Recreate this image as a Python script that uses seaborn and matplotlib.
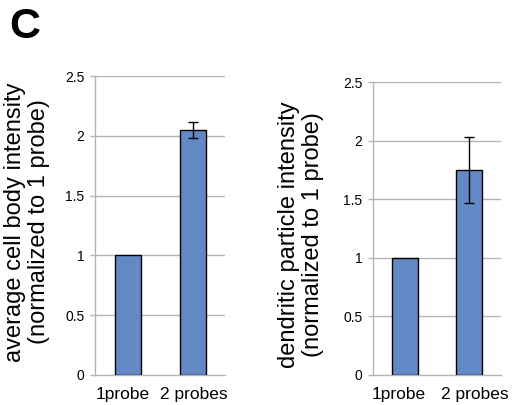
import matplotlib
matplotlib.use("Agg")
import matplotlib.pyplot as plt
import matplotlib.transforms as mtransforms
import seaborn as sns
import pandas as pd

categories = ["1probe", "2 probes"]
cell_body_values = [1.0, 2.05]
cell_body_errors = [0.0, 0.065]
dendritic_values = [1.0, 1.75]
dendritic_errors = [0.0, 0.28]
y_ticks = [0, 0.5, 1, 1.5, 2, 2.5]
y_tick_labels = ["0", "0.5", "1", "1.5", "2", "2.5"]

sns.set_theme(style="white")
plt.rcParams["font.family"] = ["Liberation Sans", "DejaVu Sans"]

W, H = 514, 405
fig = plt.figure(figsize=(W / 100, H / 100), dpi=100)

bar_color = "#6389C4"
grid_color = "#B4B4B4"


def panel(rect, values, errors, ylabel, label_x, label_y, label_shifts):
    ax = fig.add_axes(rect)
    df = pd.DataFrame({"cat": categories, "val": values})
    sns.barplot(data=df, x="cat", y="val", color=bar_color, width=0.4,
                edgecolor="black", linewidth=1.0, saturation=1,
                errorbar=None, ax=ax, zorder=3)
    xs = list(range(len(categories)))
    for x, v, e in zip(xs, values, errors):
        if e > 0:
            ax.errorbar(x, v, yerr=e, color="black", capsize=3.5,
                        elinewidth=1.0, capthick=1.0, zorder=4)
    ax.set_xlim(-0.5, 1.5)
    ax.set_ylim(0, 2.5)
    ax.set_yticks(y_ticks)
    ax.set_yticklabels(y_tick_labels)
    for t in y_ticks[1:]:
        ax.axhline(t, color=grid_color, lw=1.0, zorder=1)
    for s in ["top", "right"]:
        ax.spines[s].set_visible(False)
    ax.spines["left"].set_color(grid_color)
    ax.spines["bottom"].set_color(grid_color)
    ax.spines["left"].set_linewidth(1.0)
    ax.spines["bottom"].set_linewidth(1.0)
    ax.tick_params(axis="y", which="both", left=True, length=3.6, width=1.0,
                   color=grid_color, pad=4, labelsize=10, labelcolor="black")
    ax.tick_params(axis="x", bottom=False, pad=3, labelsize=12.5, labelcolor="black")
    for lab, dx in zip(ax.get_xticklabels(), label_shifts):
        lab.set_transform(lab.get_transform() +
                          mtransforms.ScaledTranslation(dx / 100, 0, fig.dpi_scale_trans))
    ax.set_xlabel("")
    ax.set_ylabel(ylabel, fontsize=17, color="black", linespacing=1.1)
    ax.yaxis.label.set_va("center")
    ax.yaxis.set_label_coords(label_x, label_y)
    return ax


panel([95 / W, 30 / H, 130 / W, 299 / H], cell_body_values, cell_body_errors,
      "average cell body intensity\n(normalized to 1 probe)", -0.523, 0.512,
      [-5, 1.5])
panel([373 / W, 30 / H, 128 / W, 293 / H], dendritic_values, dendritic_errors,
      "dendritic particle intensity\n(normalized to 1 probe)", -0.5625, 0.478,
      [-6, 6])

fig.text(9 / W, 1 - 38.5 / H, "C", fontsize=31, fontweight="bold", color="black",
         ha="left", va="baseline")

fig.savefig("out.png", dpi=100)
